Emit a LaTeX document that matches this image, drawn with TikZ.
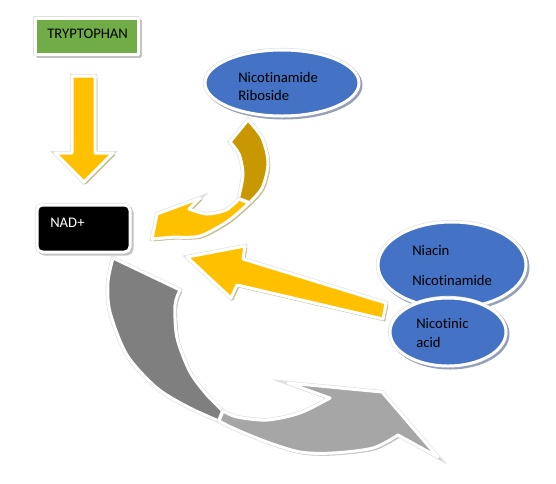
\documentclass[tikz,border=0pt]{standalone}
\usepackage{fontspec}
\setmainfont{Carlito}[Ligatures=NoCommon]
\usetikzlibrary{shapes.geometric}
\definecolor{ayellow}{RGB}{255,192,0}
\definecolor{agold}{RGB}{201,152,0}
\definecolor{agreen}{RGB}{112,173,71}
\definecolor{ablue}{RGB}{68,114,196}
\definecolor{gdark}{RGB}{127,127,127}
\definecolor{glight}{RGB}{166,166,166}
\definecolor{shtan}{RGB}{200,188,150}
\definecolor{shgray}{RGB}{195,195,195}
\definecolor{shblue}{RGB}{150,160,185}
\definecolor{rim}{RGB}{225,225,225}
\tikzset{
  shad/.style={preaction={draw=rim, line width=3.2pt},
               preaction={fill=#1, draw=#1, transform canvas={xshift=1.5pt,yshift=-1.5pt}}},
  shapefill/.style={fill=#1, draw=white, line width=2.25pt, line join=round},
  lbl/.style={anchor=base west, inner sep=0pt, font=\fontsize{11}{13}\selectfont},
}
\begin{document}
\begin{tikzpicture}[x=0.75pt,y=-0.75pt]
\useasboundingbox (0,0) rectangle (556,483);
\fill[white] (0,0) rectangle (556,483);

% boxes
\node[rectangle, shapefill=agreen, shad=shgray, minimum width=77.25pt, minimum height=27pt, inner sep=0pt] (tryp) at (86.5,36) {};
\node[rectangle, rounded corners=4pt, shapefill=black, shad=shgray, minimum width=69.75pt, minimum height=35.25pt, inner sep=0pt] (nad) at (83.5,228.5) {};

% down arrow
\path[shapefill=ayellow, shad=shtan] (72,76) -- (95,76) -- (95,153) -- (113,153) -- (84,182) -- (55,153) -- (72,153) -- cycle;

% riboside curved arrow: dark back part
\path[shapefill=agold, shad=shtan] plot[smooth] coordinates {(248,120) (262,138) (268,163) (262,188) (247,205)} -- (238,200) -- plot[smooth] coordinates {(238,200) (243,175) (239,154) (230,142)} -- cycle;
% riboside curved arrow: front part with head
\path[shapefill=ayellow, shad=shtan] plot[smooth] coordinates {(249,203) (228,221) (200,236) (175,237)} -- (152,239) -- (157,214) -- (200,198) -- (189,209) -- plot[smooth] coordinates {(189,209) (207,214) (226,210) (239,199)} -- cycle;

% big yellow arrow
\path[shapefill=ayellow, shad=shtan] (187,257) -- (245,246) -- (243,259) -- (386,303) -- (383,319) -- (237,285) -- (231,298) -- cycle;

% gray curved arrow: dark back part
\path[shapefill=gdark, shad=shgray] plot[smooth] coordinates {(113,258) (108,282) (110,312) (127,355) (157,388) (190,408) (226,424)} -- (224,412) -- plot[smooth] coordinates {(224,412) (207,395) (190,372) (177,338) (175,305) (180,290)} -- cycle;
% gray curved arrow: front part with head
\path[shapefill=glight, shad=shgray] plot[smooth] coordinates {(219,421) (235,429) (267,442) (300,452) (333,453) (373,448) (398,435)} -- (438,457) -- (382,392) -- (288,383) -- (330,398) -- plot[smooth] coordinates {(330,398) (300,413) (267,420) (237,417) (223,411)} -- cycle;

% ellipses
\node[ellipse, shapefill=ablue, shad=shblue, minimum width=115.5pt, minimum height=49.5pt, inner sep=0pt] (rib) at (282,83) {};
\node[ellipse, shapefill=ablue, shad=shblue, minimum width=111pt, minimum height=64.5pt, inner sep=0pt] (nia) at (452,265) {};
\node[ellipse, shapefill=ablue, shad=shblue, minimum width=87pt, minimum height=51pt, inner sep=0pt] (nac) at (448,332) {};

% labels
\node[lbl] (t1) at (47,38) {TRYPTOPHAN};
\node[lbl, text=white] (t2) at (50,227) {NAD+};
\node[lbl] (t3) at (238,82) {Nicotinamide};
\node[lbl] (t4) at (238,100) {Riboside};
\node[lbl] (t5) at (412,255) {Niacin};
\node[lbl] (t6) at (412,285) {Nicotinamide};
\node[lbl] (t7) at (416,328) {Nicotinic};
\node[lbl] (t8) at (416,347) {acid};
\end{tikzpicture}
\end{document}
